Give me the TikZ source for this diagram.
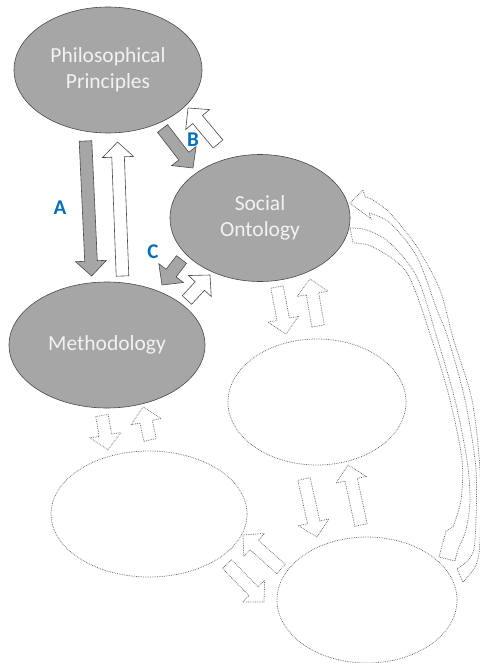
\documentclass[tikz,border=0pt]{standalone}
\usepackage{fontspec}
\setmainfont{Carlito}
\usepackage{tikz}
\usetikzlibrary{shapes.geometric,calc}
\definecolor{ovalGray}{HTML}{A6A6A6}
\definecolor{edgeGray}{HTML}{4A4A4A}
\definecolor{dotGray}{HTML}{6A6A6A}
\definecolor{labelBlue}{HTML}{0070C0}
\definecolor{paleText}{HTML}{F2F2F2}
\tikzset{
    conceptOval/.style={
        ellipse,
        draw=edgeGray,
        line width=0.6pt,
        fill=ovalGray,
        inner sep=0pt,
        align=center,
        text=paleText,
        font=\fontsize{21.5}{26.5}\selectfont
    },
    emptyOval/.style={
        ellipse,
        draw=dotGray,
        densely dotted,
        line width=0.75pt,
        fill=white,
        inner sep=0pt
    },
    blockArrow/.style={
        to path={
            let \p1=(\tikztostart), \p2=(\tikztotarget),
                \n1={atan2(\y2-\y1,\x2-\x1)},
                \n2={veclen(\x2-\x1,\y2-\y1)}
            in (\p1) ++(\n1+90:6.3pt)
               -- ++(\n1:{\n2*1pt-15pt})
               -- ++(\n1+90:9.2pt)
               -- (\p2)
               -- ++(\n1+225.94:21.57pt)
               -- ++(\n1+90:9.2pt)
               -- ++(\n1+180:{\n2*1pt-15pt})
               -- cycle
        }
    },
    darkArrow/.style={
        blockArrow,
        draw=edgeGray,
        fill=ovalGray,
        line width=0.6pt
    },
    lightArrow/.style={
        blockArrow,
        draw=edgeGray,
        fill=white,
        line width=0.6pt
    },
    dottedArrow/.style={
        blockArrow,
        draw=dotGray,
        densely dotted,
        fill=white,
        line width=0.75pt
    },
    curvedArrow/.style={
        draw=dotGray,
        densely dotted,
        fill=white,
        line width=0.75pt
    },
    letterLabel/.style={
        text=labelBlue,
        font=\fontsize{21}{24}\selectfont\bfseries
    }
}

\begin{document}
\begin{tikzpicture}[x=1pt,y=-1pt]
    \useasboundingbox (0,0) rectangle (479,663);

    \node[conceptOval,minimum width=188,minimum height=126] (pp) at (108,70) {Philosophical\\Principles};
    \node[conceptOval,minimum width=180,minimum height=127] (so) at (260,218) {Social\\Ontology};
    \node[conceptOval,minimum width=196,minimum height=126] (met) at (107,345) {Methodology};
    \node[emptyOval,minimum width=178,minimum height=126] (e4) at (317,402) {};
    \node[emptyOval,minimum width=196,minimum height=126] (e5) at (149,514) {};
    \node[emptyOval,minimum width=180,minimum height=126] (e6) at (367,600) {};

    \node[letterLabel] (labA) at (60,208) {A};
    \node[letterLabel] (labB) at (193,140) {B};
    \node[letterLabel] (labC) at (153,252) {C};

    \draw[darkArrow] ([shift={(-22.5,71)}]pp.center) to ([shift={(-15.3,-69)}]met.center);
    \draw[lightArrow] ([shift={(15.5,-69)}]met.center) to ([shift={(9.5,72)}]pp.center);
    \draw[darkArrow] ([shift={(54.5,58.5)}]pp.center) to ([shift={(-67,-50)}]so.center);
    \draw[lightArrow] ([shift={(-42,-74)}]so.center) to ([shift={(80,38)}]pp.center);
    \draw[darkArrow] ([shift={(-78.5,41.5)}]so.center) to ([shift={(55,-60)}]met.center);
    \draw[lightArrow] ([shift={(80,-45)}]met.center) to ([shift={(-50,57)}]so.center);

    \draw[dottedArrow] ([shift={(17,69)}]so.center) to ([shift={(-31,-68)}]e4.center);
    \draw[dottedArrow] ([shift={(1,-76)}]e4.center) to ([shift={(50,61)}]so.center);
    \draw[dottedArrow] ([shift={(-5,70.5)}]met.center) to ([shift={(-41,-64)}]e5.center);
    \draw[dottedArrow] ([shift={(1,-74)}]e5.center) to ([shift={(36,62)}]met.center);
    \draw[dottedArrow] ([shift={(-13,77)}]e4.center) to ([shift={(-50,-63)}]e6.center);
    \draw[dottedArrow] ([shift={(-6,-75)}]e6.center) to ([shift={(31,63)}]e4.center);
    \draw[dottedArrow] ([shift={(-86,-31)}]e6.center) to ([shift={(94,21)}]e5.center);
    \draw[dottedArrow] ([shift={(78,50)}]e5.center) to ([shift={(-103,2)}]e6.center);

    \draw[curvedArrow]
        plot[smooth] coordinates {(463,582) (476,565) (480,540) (480,470) (472,400) (453,338) (440,290) (417,247) (390,213) (373,200) (365,197)}
        -- (363,190) -- (350,203) -- (371,219)
        -- plot[smooth] coordinates {(369,213) (390,223) (417,257) (437,310) (448,338) (465,400) (476,470) (475,540) (470,558) (457,569)}
        -- cycle;
    \draw[curvedArrow]
        plot[smooth] coordinates {(350,228) (367,230) (390,243) (417,277) (437,338) (455,400) (467,460) (470,500) (466,530) (458,549)}
        -- (455,561) -- (439,557) -- (446,531)
        -- plot[smooth] coordinates {(453,527) (461,500) (462,460) (450,400) (432,340) (407,273) (373,247) (353,243)}
        -- cycle;
\end{tikzpicture}
\end{document}
